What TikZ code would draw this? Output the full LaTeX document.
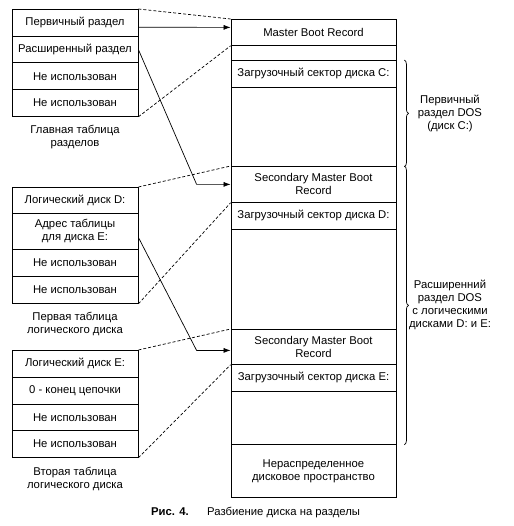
\documentclass[tikz,border=0pt]{standalone}
\usepackage{fontspec}
\setmainfont{Liberation Sans}
\usetikzlibrary{arrows.meta,decorations.pathreplacing}
\begin{document}
\begin{tikzpicture}[x=1pt,y=-1pt,
  font=\fontsize{11.3}{13}\selectfont,
  every node/.style={inner sep=0pt},
  cell/.style={draw, line width=0.8pt, minimum width=126pt, align=center, anchor=north},
  rcell/.style={draw, line width=0.8pt, minimum width=165pt, align=center, anchor=north},
  dline/.style={dash pattern=on 3pt off 2pt, line width=0.7pt},
  arr/.style={line width=0.7pt, -{Latex[length=7pt,width=5pt]}},
  lbl/.style={align=center},
  brc/.style={decorate, decoration={brace, amplitude=4pt}, line width=0.7pt}]
\useasboundingbox (0,0) rectangle (513,526);
% table 1
\node[cell, minimum height=26.75pt] (t1a) at (75,9) {Первичный раздел};
\node[cell, minimum height=26.75pt] (t1b) at (75,35.75) {Расширенный раздел};
\node[cell, minimum height=26.75pt] (t1c) at (75,62.5) {Не использован};
\node[cell, minimum height=26.75pt] (t1d) at (75,89.25) {Не использован};
\node[lbl] (l1) at (75,137) {Главная таблица\\разделов};
% table 2
\node[cell, minimum height=26pt] (t2a) at (75,187) {Логический диск D:};
\node[cell, minimum height=36pt] (t2b) at (75,213) {Адрес таблицы\\для диска E:};
\node[cell, minimum height=27pt] (t2c) at (75,249) {Не использован};
\node[cell, minimum height=27pt] (t2d) at (75,276) {Не использован};
\node[lbl] (l2) at (75,324) {Первая таблица\\логического диска};
% table 3
\node[cell, minimum height=26.75pt] (t3a) at (75,350) {Логический диск E:};
\node[cell, minimum height=26.75pt] (t3b) at (75,376.75) {0 - конец цепочки};
\node[cell, minimum height=26.75pt] (t3c) at (75,403.5) {Не использован};
\node[cell, minimum height=26.75pt] (t3d) at (75,430.25) {Не использован};
\node[lbl] (l3) at (75,479) {Вторая таблица\\логического диска};
% right column
\node[rcell, minimum height=26pt] (mbr) at (313.5,19) {Master Boot Record};
\node[rcell, minimum height=15pt] (bl1) at (313.5,45) {};
\node[rcell, minimum height=27pt] (zc) at (313.5,60) {Загрузочный сектор диска C:};
\node[rcell, minimum height=79pt] (bl2) at (313.5,87) {};
\node[rcell, minimum height=36pt] (smbr1) at (313.5,166) {Secondary Master Boot\\Record};
\node[rcell, minimum height=27pt] (zd) at (313.5,202) {Загрузочный сектор диска D:};
\node[rcell, minimum height=100pt] (bl3) at (313.5,229) {};
\node[rcell, minimum height=35pt] (smbr2) at (313.5,329) {Secondary Master Boot\\Record};
\node[rcell, minimum height=27pt] (ze) at (313.5,364) {Загрузочный сектор диска E:};
\node[rcell, minimum height=53pt] (bl4) at (313.5,391) {};
\node[rcell, minimum height=53pt] (un) at (313.5,444) {Нераспределенное\\дисковое пространство};
% braces
\draw[brc] ([xshift=8pt]zc.north east) -- ([xshift=8pt]bl2.south east);
\draw[brc] ([xshift=8pt]smbr1.north east) -- ([xshift=8pt]bl4.south east);
\node[lbl] (b1) at (450,113) {Первичный\\раздел DOS\\(диск C:)};
\node[lbl] (b2) at (450,305) {Расширенний\\раздел DOS\\с логическими\\дисками D: и E:};
% connectors
\draw[dline] (t1a.north east) -- (mbr.north west);
\draw[arr] ([yshift=-4.5pt]t1a.east) -- ([yshift=5pt]mbr.west);
\draw[dline] (t1d.south east) -- (mbr.south west);
\draw[arr] (t1b.east) -- ([xshift=-34pt]smbr1.west) -- (smbr1.west);
\draw[dline] (t2a.north east) -- (smbr1.north west);
\draw[dline] (t2d.south east) -- (smbr1.south west);
\draw[arr] ([yshift=-6pt]t2b.east) -- ([xshift=-34pt,yshift=-3.5pt]smbr2.west) -- ([yshift=-3.5pt]smbr2.west);
\draw[dline] (t3a.north east) -- (smbr2.north west);
\draw[dline] (t3d.south east) -- (smbr2.south west);
% caption
\node[anchor=base west] (cap1) at (151,515.5) {\bfseries Рис. 4.};
\node[anchor=base west] (cap2) at (207,515.5) {Разбиение диска на разделы};
\end{tikzpicture}
\end{document}
